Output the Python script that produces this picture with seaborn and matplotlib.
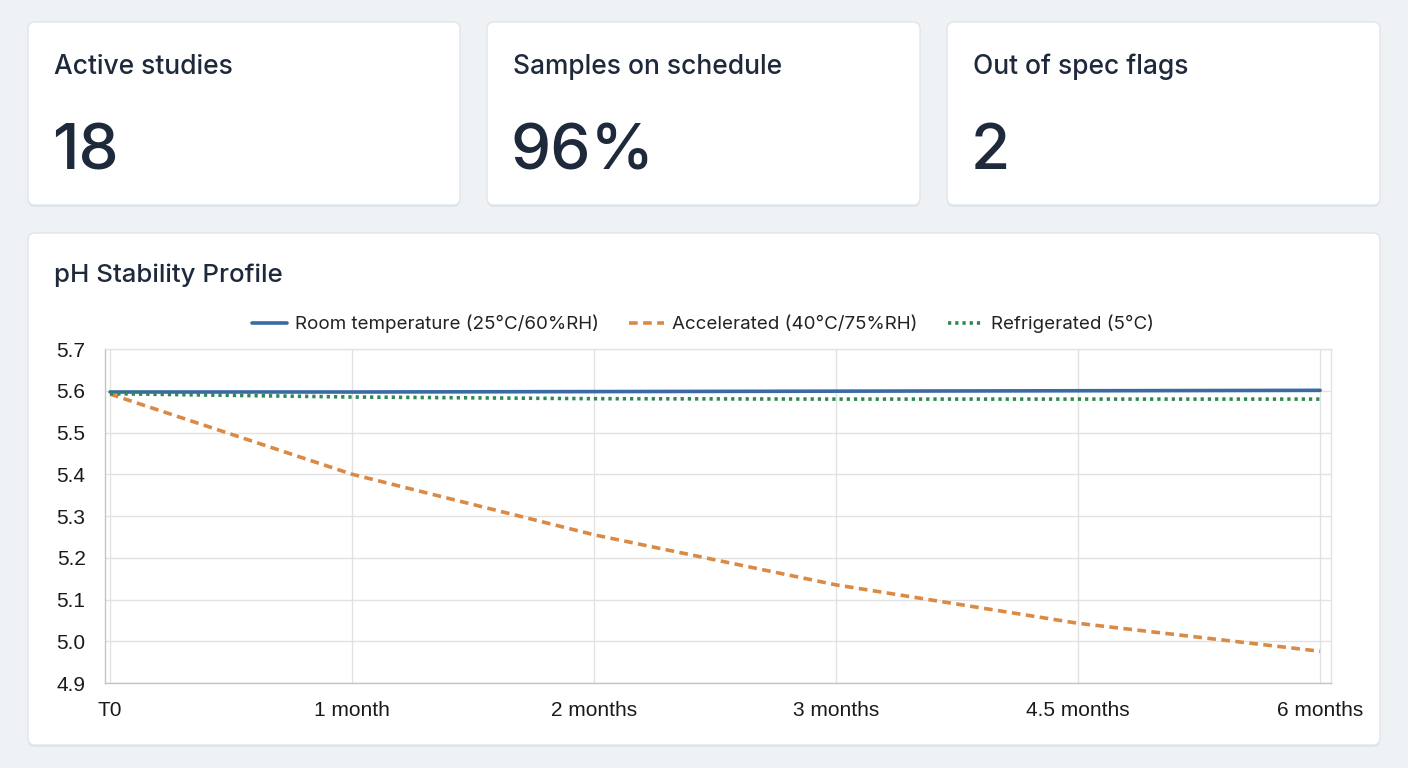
import matplotlib
matplotlib.use("Agg")
import matplotlib.pyplot as plt
import seaborn as sns
import numpy as np
import pandas as pd
from matplotlib.patches import FancyBboxPatch
from matplotlib.transforms import IdentityTransform

# ---------------- data ----------------
timepoints = ["T0", "1 month", "2 months", "3 months", "4.5 months", "6 months"]
room_temp = [5.597, 5.597, 5.598, 5.599, 5.600, 5.601]
accelerated = [5.592, 5.400, 5.255, 5.135, 5.043, 4.976]
refrigerated = [5.593, 5.585, 5.581, 5.580, 5.580, 5.580]
series_names = ["Room temperature (25°C/60%RH)", "Accelerated (40°C/75%RH)", "Refrigerated (5°C)"]
kpi_titles = ["Active studies", "Samples on schedule", "Out of spec flags"]
kpi_values = ["18", "96%", "2"]
chart_title = "pH Stability Profile"
y_ticks = [4.9, 5.0, 5.1, 5.2, 5.3, 5.4, 5.5, 5.6, 5.7]

# ---------------- style ----------------
sns.set_theme(style="white")
plt.rcParams["font.family"] = ["Inter", "DejaVu Sans"]

W, H = 1408, 768
fig = plt.figure(figsize=(W / 100, H / 100), dpi=100)
BG = "#eef2f5"
fig.patch.set_facecolor(BG)
TEXT = "#1e293b"

def card(x0, y0, x1, y1):
    b = H - y1
    sh = FancyBboxPatch((x0, b - 2), x1 - x0, y1 - y0,
                        boxstyle="round,pad=0,rounding_size=7",
                        transform=IdentityTransform(), facecolor="#d5dbe2",
                        edgecolor="none", alpha=0.6, zorder=0)
    fig.patches.append(sh)
    p = FancyBboxPatch((x0, b), x1 - x0, y1 - y0,
                       boxstyle="round,pad=0,rounding_size=7",
                       transform=IdentityTransform(), facecolor="white",
                       edgecolor="#e0e5eb", linewidth=1, zorder=0.5)
    fig.patches.append(p)

def ftext(x, y, s, **kw):
    fig.text(x / W, 1 - y / H, s, **kw)

kpi_boxes = [(28, 22, 460, 205), (487, 22, 920, 205), (947, 22, 1380, 205)]
for (x0, y0, x1, y1), t, v in zip(kpi_boxes, kpi_titles, kpi_values):
    card(x0, y0, x1, y1)
    ftext(x0 + 26, 74, t, fontsize=19, color=TEXT, va="baseline", ha="left",
          fontweight="medium")
    ftext(x0 + 24, 169, v, fontsize=46, color=TEXT, va="baseline", ha="left",
          fontweight="medium")

card(28, 233, 1380, 745)
ftext(54, 282, chart_title, fontsize=18.6, color=TEXT, va="baseline", ha="left",
      fontweight="medium")

# ---------------- chart ----------------
ax_l, ax_r, ax_t, ax_b = 105, 1331, 349, 683
ax = fig.add_axes([ax_l / W, 1 - ax_b / H, (ax_r - ax_l) / W, (ax_b - ax_t) / H])
ax.set_zorder(3)
ax.set_facecolor("white")

xs = np.arange(len(timepoints))
colors = ["#3a6aa3", "#d98a45", "#2f8a52"]
styles = ["-", (0, (2.4, 1.5)), (0, (0.9, 1.1))]
handles = []
for vals, name, c, ls in zip([room_temp, accelerated, refrigerated], series_names, colors, styles):
    sns.lineplot(x=xs, y=vals, ax=ax, color=c, linewidth=2.6, legend=False)
    ln = ax.lines[-1]
    ln.set_linestyle(ls)
    ln.set_dash_capstyle("butt")
    handles.append(ln)

fig.legend(handles, series_names, loc="center", bbox_to_anchor=(703 / W, 1 - 324 / H),
           ncol=3, frameon=False, handlelength=1.85,
           handletextpad=0.45, columnspacing=1.6,
           prop={"family": ["Inter", "DejaVu Sans"], "size": 13.5},
           labelcolor="#222222")

ax.set_xlim(-0.021, 5.045)
ax.set_ylim(4.9, 5.7)
ax.set_xticks(xs)
ax.set_xticklabels(timepoints)
ax.set_yticks(y_ticks)
ax.set_yticklabels([f"{v:.1f}" for v in y_ticks])
ax.grid(True, color="#e2e2e2", linewidth=1)
ax.set_axisbelow(True)
for side in ["top", "right"]:
    ax.spines[side].set_color("#e2e2e2")
    ax.spines[side].set_linewidth(1)
for side in ["left", "bottom"]:
    ax.spines[side].set_color("#c4c4c4")
    ax.spines[side].set_linewidth(1)
ax.tick_params(axis="both", which="major", length=5, width=1, color="#d0d0d0",
               labelsize=15, labelcolor="#1a1a1a")
ax.tick_params(axis="x", pad=8)
ax.tick_params(axis="y", pad=9)
for lab in ax.get_xticklabels() + ax.get_yticklabels():
    lab.set_family(["Liberation Sans", "DejaVu Sans"])
ax.set_xlabel("")
ax.set_ylabel("")

fig.savefig("out.png", dpi=100, facecolor=BG)
